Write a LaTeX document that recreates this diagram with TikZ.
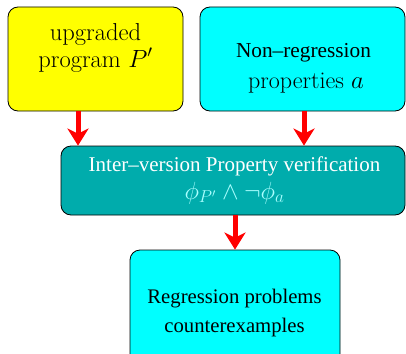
\documentclass[tikz,border=0pt]{standalone}
\usepackage{fontspec}
\newfontfamily\timesfont{Liberation Serif}
\usetikzlibrary{arrows.meta}
\definecolor{boxyellow}{RGB}{255,255,0}
\definecolor{boxcyan}{RGB}{0,255,255}
\definecolor{boxteal}{RGB}{0,172,172}
\definecolor{formulacyan}{RGB}{170,255,255}
\begin{document}
\begin{tikzpicture}[x=1pt,y=-1pt,
  box/.style={draw=black, line width=0.8pt, rounded corners=10pt, inner sep=0pt},
  line/.style={anchor=base, inner sep=0pt},
  arr/.style={draw=red, line width=5pt, -{Stealth[length=17pt,width=21pt,inset=5pt]}}]
  \useasboundingbox (0,0) rectangle (406,353);
  \clip (0,0) rectangle (406,353);
  % the two inputs
  \node[box, fill=boxyellow, minimum width=175pt, minimum height=104pt] (prog) at (95.5,59) {};
  \node[line, font=\fontsize{24.5}{28}\selectfont] (prog1) at (95.5,41) {upgraded};
  \node[line, font=\fontsize{24.5}{28}\selectfont] (prog2) at (95.5,67) {program $P'$};
  \node[box, fill=boxcyan, minimum width=205pt, minimum height=104pt] (props) at (302.5,59) {};
  \node[line, font=\fontsize{21.3}{26}\timesfont] (props1) at (303.5,57) {Non–regression};
  \node[line, font=\fontsize{24}{28}\selectfont] (props2) at (306,88) {properties $a$};
  % verification step
  \node[box, fill=boxteal, minimum width=344pt, minimum height=69pt] (verif) at (233,180.5) {};
  \node[line, text=white, font=\fontsize{21}{26}\timesfont] (verif1) at (234.5,171.5)
    {Inter–version Property verification};
  \node[line, text=formulacyan, font=\fontsize{23}{28}\selectfont] (verif2) at (234.5,199)
    {$\phi_{P'}\wedge\neg\phi_a$};
  % result
  \node[box, fill=boxcyan, minimum width=210pt, minimum height=118pt] (result) at (235,309) {};
  \node[line, font=\fontsize{20.7}{26}\timesfont] (result1) at (234.5,303) {Regression problems};
  \node[line, font=\fontsize{20.7}{26}\timesfont] (result2) at (234.5,332) {counterexamples};
  % flow
  \draw[arr] ([xshift=-17.5pt]prog.south) -- ([xshift=-17.5pt]prog.south |- verif.north);
  \draw[arr] ([xshift=1.5pt]props.south) -- ([xshift=1.5pt]props.south |- verif.north);
  \draw[arr] ([xshift=2pt]verif.south) -- (result.north);
\end{tikzpicture}
\end{document}
